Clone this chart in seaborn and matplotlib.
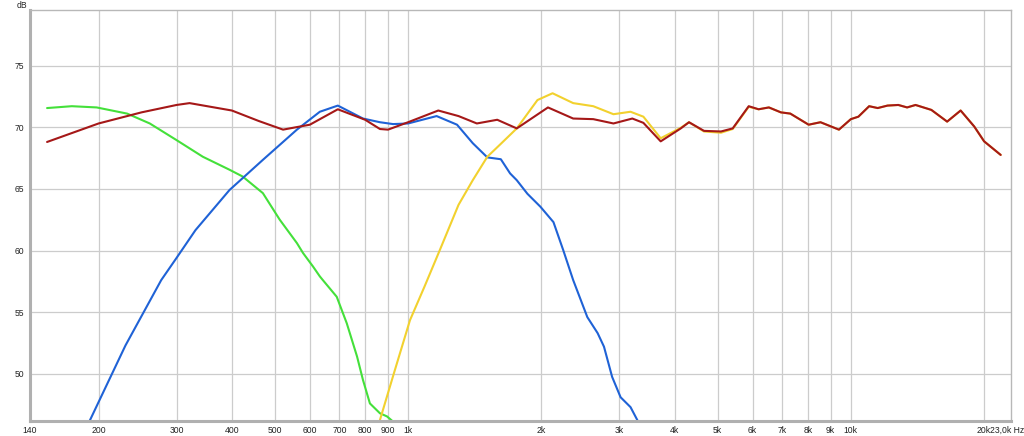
import numpy as np
import pandas as pd
import matplotlib
matplotlib.use("Agg")
import matplotlib.pyplot as plt
import seaborn as sns

# ==================== DATA ====================
woofer_hz = [153, 174, 198, 232, 261, 300, 344, 395, 423, 470, 513, 561, 579, 610,
             632, 642, 690, 727, 767, 791, 820, 864, 896, 920]
woofer_db = [71.55, 71.7, 71.6, 71.1, 70.3, 68.95, 67.6, 66.55, 66.0, 64.65, 62.5, 60.6,
             59.8, 58.7, 57.9, 57.6, 56.25, 54.1, 51.4, 49.5, 47.6, 46.8, 46.55, 46.2]

mid_hz = [191, 230, 277, 300, 331, 395, 470, 561, 632, 694, 791, 864, 925, 1000, 1160,
          1290, 1400, 1510, 1620, 1700, 1760, 1860, 1990, 2130, 2240, 2360, 2540, 2680,
          2770, 2890, 3020, 3180, 3300]
mid_db = [46.2, 52.3, 57.6, 59.4, 61.65, 64.9, 67.35, 69.8, 71.25, 71.75, 70.7, 70.4,
          70.25, 70.3, 70.9, 70.2, 68.7, 67.55, 67.4, 66.25, 65.7, 64.6, 63.55, 62.3,
          60.05, 57.6, 54.6, 53.3, 52.2, 49.75, 48.1, 47.3, 46.2]

tweeter_hz = [863, 930, 1010, 1090, 1180, 1300, 1400, 1510, 1620, 1760, 1960, 2120,
              2360, 2620, 2910, 3180, 3400, 3720, 4130, 4310, 4660, 5090, 5410, 5880,
              6190, 6530, 6950, 7300, 8030, 8540, 9400, 10000, 10400, 11000, 11500,
              12100, 12800, 13400, 14000, 15200, 16500, 17700, 19000, 20000, 21800]
tweeter_db = [46.2, 50.1, 54.35, 57.1, 60.05, 63.7, 65.7, 67.6, 68.65, 69.9, 72.2, 72.75,
              71.95, 71.7, 71.05, 71.25, 70.85, 69.1, 69.95, 70.4, 69.65, 69.55, 69.85,
              71.65, 71.45, 71.6, 71.2, 71.1, 70.2, 70.4, 69.8, 70.65, 70.85, 71.7, 71.55,
              71.75, 71.8, 71.6, 71.8, 71.4, 70.45, 71.35, 70.05, 68.85, 67.75]

sum_hz = [153, 200, 250, 300, 321, 400, 460, 522, 600, 694, 800, 864, 901, 1000, 1170,
          1300, 1430, 1590, 1760, 2070, 2360, 2620, 2910, 3210, 3400, 3720, 4130, 4310,
          4660, 5090, 5410, 5880, 6190, 6530, 6950, 7300, 8030, 8540, 9400, 10000,
          10400, 11000, 11500, 12100, 12800, 13400, 14000, 15200, 16500, 17700, 19000,
          20000, 21800]
sum_db = [68.8, 70.3, 71.2, 71.8, 71.95, 71.35, 70.5, 69.8, 70.2, 71.45, 70.6, 69.85,
          69.8, 70.4, 71.35, 70.9, 70.3, 70.6, 69.9, 71.6, 70.7, 70.65, 70.3, 70.7,
          70.35, 68.85, 69.9, 70.4, 69.7, 69.65, 69.9, 71.7, 71.45, 71.6, 71.2, 71.1,
          70.2, 70.4, 69.8, 70.65, 70.85, 71.7, 71.55, 71.75, 71.8, 71.6, 71.8, 71.4,
          70.45, 71.35, 70.05, 68.85, 67.75]

tick_hz = [140, 200, 300, 400, 500, 600, 700, 800, 900, 1000, 2000, 3000, 4000, 5000,
           6000, 7000, 8000, 9000, 10000, 20000]
tick_labels = ["140", "200", "300", "400", "500", "600", "700", "800", "900", "1k", "2k",
               "3k", "4k", "5k", "6k", "7k", "8k", "9k", "10k", "20k"]
end_label = "23,0k Hz"
db_ticks = [50, 55, 60, 65, 70, 75]

series = [
    ("woofer", woofer_hz, woofer_db, "#44e03a"),
    ("mid", mid_hz, mid_db, "#1f62d6"),
    ("tweeter", tweeter_hz, tweeter_db, "#f2d12e"),
    ("sum", sum_hz, sum_db, "#a51818"),
]

# ==================== PLOT ====================
sns.set_style("white")
plt.rcParams['font.family'] = ['Liberation Sans', 'DejaVu Sans']
FS = 6.2

fig = plt.figure(figsize=(10.24, 4.36), dpi=100)
ax = fig.add_axes([30 / 1024, (436 - 420.7) / 436, (1011 - 30) / 1024, (420.7 - 10) / 436])

for name, hz, db, color in series:
    df = pd.DataFrame({"hz": hz, "db": db})
    sns.lineplot(data=df, x="hz", y="db", ax=ax, color=color, linewidth=1.5,
                 sort=False, estimator=None, legend=False)

ax.set_xscale("log")
ax.set_xlim(140, 23000)
ax.set_ylim(46.2, 79.5)

for g in tick_hz[1:]:
    ax.axvline(g, color="#cccccc", linewidth=0.9, zorder=0)
for d in db_ticks:
    ax.axhline(d, color="#cccccc", linewidth=0.9, zorder=0)

ax.xaxis.set_major_locator(matplotlib.ticker.FixedLocator(tick_hz))
ax.xaxis.set_major_formatter(matplotlib.ticker.FixedFormatter(tick_labels))
ax.xaxis.set_minor_locator(matplotlib.ticker.NullLocator())
ax.set_yticks(db_ticks)
ax.set_yticklabels([str(d) for d in db_ticks])
ax.tick_params(axis="both", length=0, labelsize=FS, colors="#222222", pad=4)
ax.set_xlabel("")
ax.set_ylabel("")

for side in ["top", "right"]:
    ax.spines[side].set_color("#b8b8b8")
    ax.spines[side].set_linewidth(1.0)
for side in ["left", "bottom"]:
    ax.spines[side].set_color("#b0b0b0")
    ax.spines[side].set_linewidth(2.2)

fig.text(17 / 1024, 1 - 5 / 436, "dB", fontsize=FS, color="#222222", va="center")
fig.text(990 / 1024, 1 - 430 / 436, end_label, fontsize=FS, color="#222222",
         ha="left", va="center")

fig.savefig("out.png", dpi=100, facecolor="white")
